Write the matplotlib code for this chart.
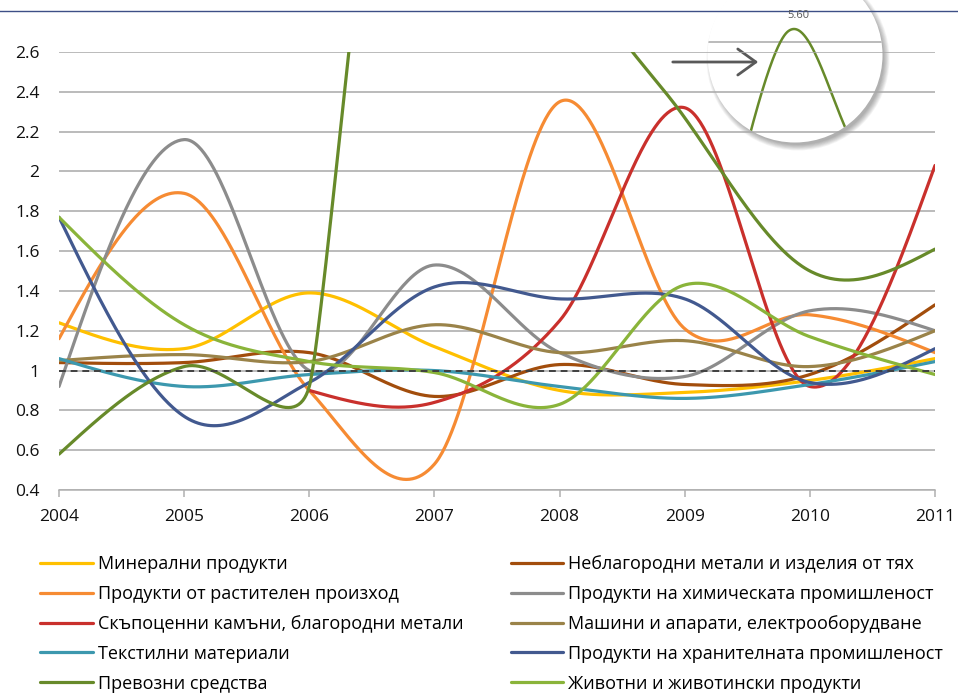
import matplotlib
matplotlib.use("Agg")
import matplotlib.pyplot as plt
import numpy as np
from matplotlib.patches import Circle, FancyArrowPatch
from matplotlib.lines import Line2D

plt.rcParams['font.family'] = ['Open Sans', 'DejaVu Sans']

years = [2004, 2005, 2006, 2007, 2008, 2009, 2010, 2011]

# series in excel order (later ones are drawn on top)
mineral = [1.24, 1.11, 1.39, 1.12, 0.90, 0.89, 0.95, 1.06]
base_metals = [1.04, 1.04, 1.09, 0.87, 1.03, 0.93, 0.98, 1.33]
plant = [1.16, 1.89, 0.90, 0.53, 2.35, 1.21, 1.28, 1.09]
chemical = [0.92, 2.16, 1.00, 1.53, 1.09, 0.97, 1.30, 1.20]
precious = [np.nan, np.nan, 0.90, 0.84, 1.25, 2.32, 0.92, 2.03]
machines = [1.05, 1.08, 1.045, 1.23, 1.09, 1.15, 1.02, 1.20]
textile = [1.06, 0.92, 0.98, 1.00, 0.92, 0.86, 0.93, 1.045]
food = [1.77, 0.77, 0.94, 1.42, 1.36, 1.36, 0.94, 1.11]
transport = [0.58, 1.02, 0.92, 5.60, 3.26, 2.27, 1.50, 1.61]
animal = [1.77, 1.23, 1.045, 0.99, 0.83, 1.43, 1.17, 0.98]

labels = [
    'Минерални продукти',
    'Неблагородни метали и изделия от тях',
    'Продукти от растителен произход',
    'Продукти на химическата промишленост',
    'Скъпоценни камъни, благородни метали',
    'Машини и апарати, електрооборудване',
    'Текстилни материали',
    'Продукти на хранителната промишленост',
    'Превозни средства',
    'Животни и животински продукти',
]
values = [mineral, base_metals, plant, chemical, precious,
          machines, textile, food, transport, animal]
colors = ['#FFC000', '#A24D0C', '#F68B33', '#8C8C8C', '#C9302C',
          '#9A8349', '#3C98AE', '#42598F', '#678A2A', '#8AB43A']

W, H = 958, 693
# pixels per year / per unit on the plot, smoothing is done in pixel space
XS, YS = 876 / 7, 438 / 2.2


def smooth(x, y, n=80):
    """excel style smoothed line: bezier, handles (p2-p0)/6 but never
    longer than half of the shorter neighbouring segment"""
    x = np.asarray(x, float)
    y = np.asarray(y, float)
    keep = ~np.isnan(y)
    p = np.column_stack([x[keep] * XS, y[keep] * YS])
    k = len(p)
    cin, cout = p.copy(), p.copy()
    for i in range(1, k - 1):
        d01 = np.hypot(*(p[i] - p[i - 1]))
        d12 = np.hypot(*(p[i + 1] - p[i]))
        v = p[i + 1] - p[i - 1]
        d02 = np.hypot(*v)
        f = 1 / 6
        if d02 / 6 >= min(d01, d12) / 2:
            f = min(d01, d12) / (2 * d02)
        cin[i] = p[i] - v * f
        cout[i] = p[i] + v * f
    cout[0] = (p[0] + cin[1]) / 2
    cin[-1] = (p[-1] + cout[-2]) / 2
    t = np.linspace(0, 1, n, endpoint=False)[:, None]
    segs = []
    for i in range(k - 1):
        segs.append((1 - t)**3 * p[i] + 3 * (1 - t)**2 * t * cout[i]
                    + 3 * (1 - t) * t**2 * cin[i + 1] + t**3 * p[i + 1])
    segs.append(p[-1:])
    c = np.vstack(segs)
    return c[:, 0] / XS, c[:, 1] / YS


fig = plt.figure(figsize=(W / 100, H / 100), dpi=100)

# background layer: magnifier circle, top rule
bg = fig.add_axes([0, 0, 1, 1], zorder=0)
bg.set_xlim(0, W)
bg.set_ylim(H, 0)
bg.axis('off')

ax = fig.add_axes([59 / W, 1 - 490 / H, 876 / W, 438 / H], zorder=1)
ax.patch.set_alpha(0)

handles = []
for lab, vals, col in zip(labels, values, colors):
    sx, sy = smooth(years, vals)
    ln, = ax.plot(sx, sy, color=col, lw=2.3, solid_capstyle='round',
                  label=lab, zorder=3)
    handles.append(ln)

ax.axhline(1, color='#404040', lw=1.4, ls=(0, (3.5, 2.5)), zorder=4)

ax.set_xlim(2004, 2011)
ax.set_ylim(0.4, 2.6)
yt = np.round(np.arange(0.4, 2.61, 0.2), 1)
ax.set_yticks(yt)
ax.set_yticklabels([f'{v:g}' for v in yt])
ax.set_xticks(years)
ax.grid(axis='y', color='#A8A8A8', lw=1.1, zorder=1)
for s in ['top', 'right', 'left']:
    ax.spines[s].set_visible(False)
ax.spines['bottom'].set_color('#B0B0B0')
ax.spines['bottom'].set_linewidth(1.1)
ax.tick_params(axis='y', length=0, pad=14, labelsize=12.5, labelcolor='#111111')
ax.tick_params(axis='x', length=5, width=1.1, color='#B0B0B0', pad=9,
               labelsize=12.5, labelcolor='#111111')

# top rule
bg.add_line(Line2D([0, W], [11, 11], color='#3D4F86', lw=1.0))

# magnifier on the off-scale peak of "Превозни средства"
cx, cy, r = 795, 55, 87.5
for k in range(8):
    bg.add_patch(Circle((cx + 3, cy + 4), r + 4 - k * 0.8, color='black',
                        alpha=0.045, lw=0))
disc = Circle((cx, cy), r, facecolor='white', edgecolor='none')
bg.add_patch(disc)
gl = Line2D([700, 890], [42, 42], color='#A8A8A8', lw=1.1)
bg.add_line(gl)
gl.set_clip_path(disc)

# only the upper part of the peak is shown magnified
sx, sy = smooth(years, transport, n=400)
top = sy > 3.5
xs_top = sx[top]
x_peak = sx[np.argmax(sy)]
px = np.interp(xs_top, [xs_top.min(), x_peak, xs_top.max()], [748, 794, 852])
py = np.interp(sy[top], [3.5, sy.max()], [142, 29])
pk, = bg.plot(px, py, color=colors[8], lw=1.8)
pk.set_clip_path(disc)
bg.text(798, 15, f'{max(transport):.2f}', ha='center', va='center',
        fontsize=8, color='#595959')
bg.add_patch(FancyArrowPatch((670, 62), (761, 62),
                             arrowstyle='->,head_length=1.0,head_width=0.72',
                             mutation_scale=13, color='#595959', lw=2))

# legend: left column first five, right column last five
order = [0, 2, 4, 6, 8, 1, 3, 5, 7, 9]
fig.legend([handles[i] for i in order], [labels[i] for i in order],
           ncol=2, loc='upper left', bbox_to_anchor=(40 / W, 1 - 555 / H),
           frameon=False, fontsize=13, handlelength=2.93, handletextpad=0.28,
           columnspacing=2.6, labelspacing=0.66, borderpad=0,
           borderaxespad=0)

fig.savefig('out.png', dpi=100)
